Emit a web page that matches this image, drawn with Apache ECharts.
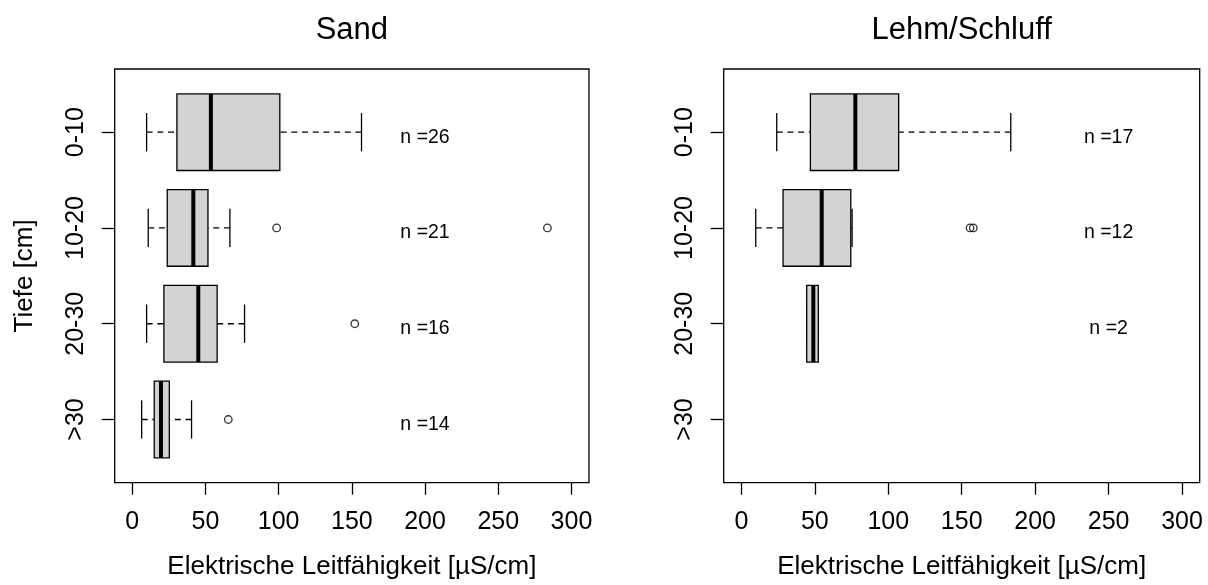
<!DOCTYPE html>
<html><head><meta charset="utf-8">
<script src="https://cdn.jsdelivr.net/npm/echarts@6/dist/echarts.min.js"></script>
<style>html,body{margin:0;padding:0;background:#fff}#c{width:1208px;height:585px}</style>
</head><body><div id="c"></div>
<script>
// ---- data ----
const categories = ['0-10', '10-20', '20-30', '>30'];
const xTicks = [0, 50, 100, 150, 200, 250, 300];
const panelTitles = ['Sand', 'Lehm/Schluff'];
const xAxisTitle = 'Elektrische Leitfähigkeit [µS/cm]';
const yAxisTitle = 'Tiefe [cm]';
// [lower whisker, Q1, median, Q3, upper whisker] per depth class
const sandBoxes = [
  [9.8, 30.5, 53.7, 100.8, 156.6],
  [10.9, 23.9, 41.7, 51.7, 66.7],
  [9.8, 21.6, 45.1, 58.0, 76.7],
  [6.4, 15.0, 19.6, 25.3, 40.5]
];
const sandOutliers = [[98.6, '10-20'], [283.6, '10-20'], [152.0, '20-30'], [65.6, '>30']];
const sandN = [26, 21, 16, 14];
const lehmBoxes = [
  [24.1, 47.0, 77.6, 107.1, 183.4],
  [9.8, 28.4, 54.7, 74.5, 75.4],
  [44.5, 44.5, 49.0, 52.4, 52.4],
  null
];
const lehmOutliers = [[155.7, '10-20'], [157.9, '10-20']];
const lehmN = [17, 12, 2, null];

// ---- layout / style ----
const FONT = 'Liberation Sans, Arial, Helvetica, sans-serif';
const grids = [
  { left: 114.7, top: 69, width: 474.3, height: 413.7 },
  { left: 723.7, top: 69, width: 476, height: 413.7 }
];
const nLabelX = [200, 250];
const posOf = c => categories.indexOf(c) + 1;

function boxRender(params, api) {
  const pos = api.value(0);
  const lw = api.value(1), q1 = api.value(2), med = api.value(3), q3 = api.value(4), uw = api.value(5);
  const c = (x, y) => api.coord([x, y]);
  const yc = c(0, pos)[1];
  const yA = c(0, pos - 0.4)[1], yB = c(0, pos + 0.4)[1];
  const sA = c(0, pos - 0.2)[1], sB = c(0, pos + 0.2)[1];
  const top = Math.min(yA, yB), bot = Math.max(yA, yB);
  const xlw = c(lw, pos)[0], xq1 = c(q1, pos)[0], xmed = c(med, pos)[0], xq3 = c(q3, pos)[0], xuw = c(uw, pos)[0];
  const dash = [6, 4.7];
  const ls = { stroke: '#000', lineWidth: 1.3 };
  return {
    type: 'group',
    children: [
      { type: 'line', shape: { x1: xlw, y1: yc, x2: xq1, y2: yc }, style: Object.assign({ lineDash: dash }, ls) },
      { type: 'line', shape: { x1: xuw, y1: yc, x2: xq3, y2: yc }, style: Object.assign({ lineDash: dash }, ls) },
      { type: 'line', shape: { x1: xlw, y1: sA, x2: xlw, y2: sB }, style: ls },
      { type: 'line', shape: { x1: xuw, y1: sA, x2: xuw, y2: sB }, style: ls },
      { type: 'rect', shape: { x: xq1, y: top, width: xq3 - xq1, height: bot - top }, style: { fill: '#d3d3d3', stroke: '#000', lineWidth: 1.3 } },
      { type: 'line', shape: { x1: xmed, y1: top, x2: xmed, y2: bot }, style: { stroke: '#000', lineWidth: 4 } }
    ]
  };
}

function nRender(params, api) {
  const p = api.coord([api.value(0), api.value(1)]);
  return {
    type: 'text',
    x: p[0], y: p[1] + 5,
    style: { text: 'n =' + api.value(2), align: 'center', verticalAlign: 'middle', textAlign: 'center', textVerticalAlign: 'middle', fill: '#000', font: '19.5px ' + FONT }
  };
}

const xAxes = [], yAxes = [], series = [], graphics = [];
[[sandBoxes, sandOutliers, sandN], [lehmBoxes, lehmOutliers, lehmN]].forEach((d, gi) => {
  const [boxes, outs, ns] = d;
  xAxes.push({
    type: 'value', gridIndex: gi, min: -12, max: 312, position: 'bottom',
    axisLine: { show: false, onZero: false }, splitLine: { show: false },
    axisTick: { show: true, length: 12, lineStyle: { color: '#000', width: 1.3 }, customValues: xTicks },
    axisLabel: { color: '#000', fontSize: 25, fontFamily: FONT, margin: 27, customValues: xTicks },
    name: xAxisTitle, nameLocation: 'middle', nameGap: 71,
    nameTextStyle: { color: '#000', fontSize: 26, fontFamily: FONT }
  });
  yAxes.push({
    type: 'value', gridIndex: gi, inverse: true, min: 0.34, max: 4.66, position: 'left',
    axisLine: { show: false, onZero: false }, splitLine: { show: false },
    axisTick: { show: true, length: 13, lineStyle: { color: '#000', width: 1.3 }, customValues: [1, 2, 3, 4] },
    axisLabel: { color: '#000', fontSize: 25, fontFamily: FONT, margin: 26, rotate: 90, customValues: [1, 2, 3, 4],
      formatter: v => categories[Math.round(v) - 1] },
    name: gi === 0 ? yAxisTitle : '', nameLocation: 'middle', nameGap: 77, nameRotate: 90,
    nameTextStyle: { color: '#000', fontSize: 26, fontFamily: FONT }
  });
  series.push({
    type: 'custom', xAxisIndex: gi, yAxisIndex: gi, renderItem: boxRender, silent: true,
    encode: { x: [1, 2, 3, 4, 5], y: 0 },
    data: boxes.map((b, i) => b ? [i + 1].concat(b) : null).filter(Boolean)
  });
  series.push({
    type: 'scatter', xAxisIndex: gi, yAxisIndex: gi, silent: true,
    symbol: 'circle', symbolSize: 7.5,
    itemStyle: { color: 'rgba(0,0,0,0)', borderColor: '#000', borderWidth: 1.3 },
    data: outs.map(o => [o[0], posOf(o[1])])
  });
  series.push({
    type: 'custom', xAxisIndex: gi, yAxisIndex: gi, renderItem: nRender, silent: true,
    encode: { x: 0, y: 1 },
    data: ns.map((n, i) => n == null ? null : [nLabelX[gi], i + 1, n]).filter(Boolean)
  });
  graphics.push({
    type: 'text', x: grids[gi].left + grids[gi].width / 2, y: 30,
    style: { text: panelTitles[gi], align: 'center', verticalAlign: 'middle', textAlign: 'center', textVerticalAlign: 'middle', fill: '#000', font: '31px ' + FONT }
  });
});

const chart = echarts.init(document.getElementById('c'), null, { renderer: 'canvas' });
chart.setOption({
  backgroundColor: '#fff',
  animation: false,
  grid: grids.map(g => Object.assign({ show: true, borderColor: '#000', borderWidth: 1.3, backgroundColor: 'rgba(0,0,0,0)', containLabel: false }, g)),
  xAxis: xAxes,
  yAxis: yAxes,
  series: series,
  graphic: graphics
});
</script></body></html>
